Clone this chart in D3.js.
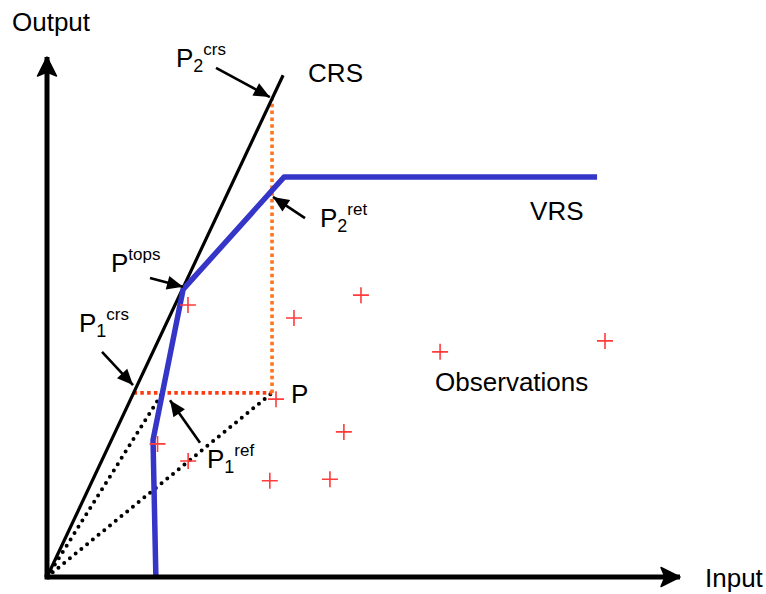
<!DOCTYPE html>
<html>
<head>
<meta charset="utf-8">
<script src="https://cdn.jsdelivr.net/npm/d3@7"></script>
<style>
  body { margin: 0; background: #fff; }
  svg { display: block; font-family: "Liberation Sans", Arial, sans-serif; }
</style>
</head>
<body>
<div id="chart"><svg></svg></div>
<script>
// frontier data, in input/output units
var crsLine = [[0, 0], [37.3, 96.5]];
var vrsFrontier = [[17.2, 0], [16.75, 26.35], [21.5, 55.3], [37.44, 76.9], [86.9, 76.9]];
var observations = [
    [22.27, 52.3], [39.02, 49.8], [49.6, 54.2], [62.1, 43.3], [88.15, 45.4],
    [36.18, 34.2], [46.9, 27.9], [44.7, 18.8], [35.2, 18.5], [22.3, 22.3], [17.46, 25.6]
];
var pointP = [35.55, 35.4];
var p1crs = [13.67, 35.4];
var p1ref = [18.23, 35.4];
var p2crs = [35.55, 92.0];

// annotation arrows: tail -> tip
var arrows = [
    { name: "P2crs", from: [26.7, 97.9], to: [35.2, 92.3] },
    { name: "P2ref", from: [40.76, 69.0], to: [35.7, 73.1] },
    { name: "Ptops", from: [16.27, 57.5], to: [21.48, 55.8] },
    { name: "P1crs", from: [8.69, 43.3], to: [13.59, 36.9] },
    { name: "P1ref", from: [24.17, 25.8], to: [19.43, 34.0] }
];
var pointLabels = [
    { name: "P2crs", main: "P", sub: "2", sup: "crs" },
    { name: "P2ref", main: "P", sub: "2", sup: "ret" },
    { name: "Ptops", main: "P", sub: "", sup: "tops" },
    { name: "P1crs", main: "P", sub: "1", sup: "crs" },
    { name: "P1ref", main: "P", sub: "1", sup: "ref" }
];
var axisLabels = { x: "Input", y: "Output" };

var width = 766, height = 594;

var x = d3.scaleLinear().domain([0, 100]).range([47, 680]);
var y = d3.scaleLinear().domain([0, 100]).range([577, 57]);

var svg = d3.select("#chart svg")
    .attr("width", width)
    .attr("height", height);

var defs = svg.append("defs");

// notched arrowhead for the axes
defs.append("marker")
    .attr("id", "axis-head")
    .attr("markerUnits", "userSpaceOnUse")
    .attr("viewBox", "-20 -12 24 24")
    .attr("markerWidth", 24)
    .attr("markerHeight", 24)
    .attr("refX", 0)
    .attr("refY", 0)
    .attr("orient", "auto")
    .append("path")
    .attr("d", "M0,0L-19,-9.5L-15,0L-19,9.5Z")
    .attr("fill", "#000")
    .attr("stroke", "#000")
    .attr("stroke-width", 1.5)
    .attr("stroke-linejoin", "round");

defs.append("marker")
    .attr("id", "note-head")
    .attr("markerUnits", "userSpaceOnUse")
    .attr("viewBox", "-18 -9 20 18")
    .attr("markerWidth", 20)
    .attr("markerHeight", 18)
    .attr("refX", 0)
    .attr("refY", 0)
    .attr("orient", "auto")
    .append("path")
    .attr("d", "M0,0L-16,-7L-16,7Z")
    .attr("fill", "#000");

var line = d3.line()
    .x(d => x(d[0]))
    .y(d => y(d[1]));

var g = svg.append("g");

// dotted rays from the origin
g.selectAll(".ray")
    .data([pointP, p1ref])
    .join("path")
    .attr("class", "ray")
    .attr("d", d => line([[0, 0], d]))
    .attr("fill", "none")
    .attr("stroke", "#000")
    .attr("stroke-width", 4)
    .attr("stroke-linecap", "round")
    .attr("stroke-dasharray", "0,7.4");

// projections of P
g.append("path")
    .attr("d", line([p1crs, pointP]))
    .attr("fill", "none")
    .attr("stroke", "#ff3a10")
    .attr("stroke-width", 3.6)
    .attr("stroke-dasharray", "3.5,3.3");

g.append("path")
    .attr("d", line([pointP, p2crs]))
    .attr("fill", "none")
    .attr("stroke", "#ff7420")
    .attr("stroke-width", 3.6)
    .attr("stroke-dasharray", "3.5,3.3");

// CRS frontier
g.append("path")
    .attr("d", line(crsLine))
    .attr("fill", "none")
    .attr("stroke", "#000")
    .attr("stroke-width", 3.2);

// VRS frontier
g.append("path")
    .attr("d", line(vrsFrontier))
    .attr("fill", "none")
    .attr("stroke", "#3535c8")
    .attr("stroke-width", 5.5)
    .attr("stroke-linejoin", "round");

// observations
g.selectAll(".obs")
    .data(observations)
    .join("path")
    .attr("class", "obs")
    .attr("transform", d => "translate(" + x(d[0]) + "," + y(d[1]) + ")")
    .attr("d", "M-8,0H8M0,-8V8")
    .attr("stroke", "#ff3b3b")
    .attr("stroke-width", 1.6)
    .attr("fill", "none");

// axes
g.append("path")
    .attr("d", line([[0, 0], [100, 0]]))
    .attr("stroke", "#000")
    .attr("stroke-width", 5)
    .attr("marker-end", "url(#axis-head)");
g.append("path")
    .attr("d", line([[0, 0], [0, 100]]))
    .attr("stroke", "#000")
    .attr("stroke-width", 5)
    .attr("marker-end", "url(#axis-head)");
g.append("rect")
    .attr("x", x(0) - 2.5)
    .attr("y", y(0) - 2.5)
    .attr("width", 5)
    .attr("height", 5);

// annotation arrows
g.selectAll(".note")
    .data(arrows)
    .join("path")
    .attr("class", "note")
    .attr("d", d => line([d.from, d.to]))
    .attr("stroke", "#000")
    .attr("stroke-width", 2.6)
    .attr("marker-end", "url(#note-head)");

// label offsets from arrow tails (px)
var labelOffset = {
    P2crs: [-40, -1],
    P2ref: [15, 9],
    Ptops: [-39, -6],
    P1crs: [-23, -20],
    P1ref: [7, 25]
};

var labels = g.append("g")
    .attr("font-size", 26)
    .attr("fill", "#000");

pointLabels.forEach(function(d) {
    var a = arrows.find(e => e.name === d.name);
    var off = labelOffset[d.name];
    var t = labels.append("text")
        .attr("x", x(a.from[0]) + off[0])
        .attr("y", y(a.from[1]) + off[1]);
    t.append("tspan").text(d.main);
    var supDy = -12;
    if (d.sub) {
        t.append("tspan")
            .attr("font-size", 18)
            .attr("dy", 5)
            .text(d.sub);
        supDy = -17;
    }
    t.append("tspan")
        .attr("font-size", 17)
        .attr("dy", supDy)
        .text(d.sup);
});

labels.append("text")
    .attr("x", x(pointP[0]) + 19)
    .attr("y", y(pointP[1]) + 10)
    .text("P");

labels.append("text")
    .attr("x", x(crsLine[1][0]) + 25)
    .attr("y", y(crsLine[1][1]) + 7)
    .text("CRS");

labels.append("text")
    .attr("x", x(vrsFrontier[4][0]) - 67)
    .attr("y", y(vrsFrontier[4][1]) + 43)
    .text("VRS");

labels.append("text")
    .attr("x", x(observations[3][0]) - 5)
    .attr("y", y(observations[3][1]) + 39)
    .text("Observations");

labels.append("text")
    .attr("x", x(0) - 35)
    .attr("y", y(100) - 26)
    .text(axisLabels.y);

labels.append("text")
    .attr("x", x(100) + 25)
    .attr("y", y(0) + 10)
    .text(axisLabels.x);
</script>
</body>
</html>
